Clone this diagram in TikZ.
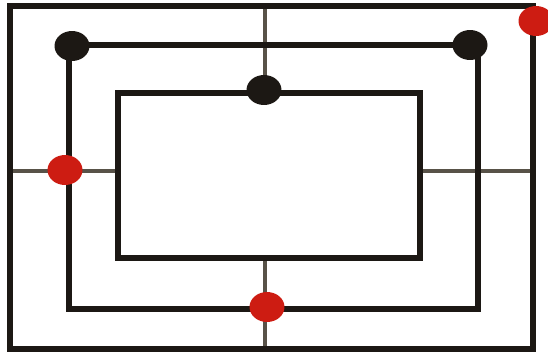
\documentclass[tikz,border=0pt]{standalone}
\usepackage{tikz}
\usetikzlibrary{shapes.geometric}

\definecolor{framecol}{RGB}{28,24,20}
\definecolor{axiscol}{RGB}{88,82,72}
\definecolor{dotred}{RGB}{205,28,18}

\begin{document}
\begin{tikzpicture}[
    x=0.02cm, y=-0.02cm,
    frame/.style={draw=framecol,line width=3.1pt},
    axis/.style={draw=axiscol,line width=2.2pt},
    dot/.style={ellipse,minimum width=0.7cm,minimum height=0.6cm,
                inner sep=0pt},
    blackdot/.style={dot,fill=framecol},
    reddot/.style={dot,fill=dotred}
]
\useasboundingbox[fill=white] (0,0) rectangle (548,355);
% cross lines
\coordinate (otop) at (265,6);
\coordinate (itop) at (265,93);
\coordinate (ibot) at (265,258);
\coordinate (obot) at (265,349);
\coordinate (oleft)  at (10,171);
\coordinate (ileft)  at (118,171);
\coordinate (iright) at (420,171);
\coordinate (oright) at (533,171);
\draw[axis] (otop) -- (itop);
\draw[axis] (ibot) -- (obot);
\draw[axis] (oleft) -- (ileft);
\draw[axis] (iright) -- (oright);
% rectangles
\draw[frame] (10,6) rectangle (533,349);
\draw[frame] (69,45) rectangle (478,309);
\draw[frame] (118,93) rectangle (420,258);
% dots
\node[blackdot] (tl)  at (72,46)  {};
\node[blackdot] (tr)  at (470,45) {};
\node[blackdot] (tm)  at (264,90) {};
\node[reddot]   (ml)  at (65,170) {};
\node[reddot]   (bm)  at (267,307) {};
\node[reddot]   (cor) at (536,21) {};
\end{tikzpicture}
\end{document}
